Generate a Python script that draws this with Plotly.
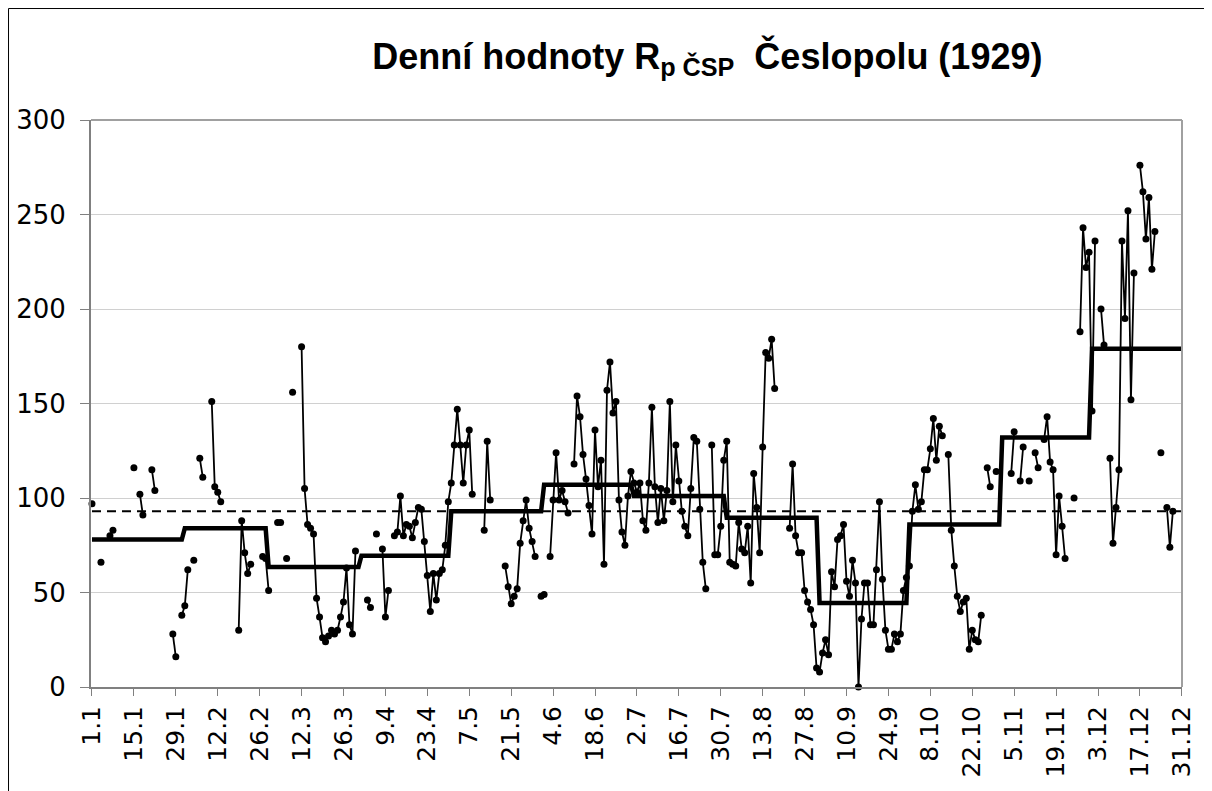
import plotly.graph_objects as go

N = None

# ---- data (daily values, one list per month; None = missing day) ----
jan = [97, N, N, 66, N, N, 80, 83, N, N, N, N, N, N, 116, N, 102, 91, N, N,
       115, 104, N, N, N, N, N, 28, 16, N, 38]
feb = [43, 62, N, 67, N, 121, 111, N, N, 151, 106, 103, 98, N, N, N, N, N,
       30, 88, 71, 60, 65, N, N, N, 69, 68]
mar = [51, N, N, 87, 87, N, 68, N, 156, N, N, 180, 105, 86, 84, 81, 47, 37,
       26, 24, 27, 30, 28, 30, 37, 45, 63, 33, 28, 72, N]
apr = [N, N, 46, 42, N, 81, N, 73, 37, 51, N, 80, 82, 101, 80, 86, 85, 79,
       87, 95, 94, 77, 59, 40, 60, 46, 60, 62, 75, 98]
may = [108, 128, 147, 128, 108, 128, 136, 102, N, N, N, 83, 130, 99, N, N,
       N, N, 64, 53, 44, 48, 52, 76, 88, 99, 84, 77, 69, N, 48]
jun = [49, N, 69, 99, 124, 99, 104, 98, 92, N, 118, 154, 143, 123, 110, 96,
       81, 136, 106, 120, 65, 157, 172, 145, 151, 99, 82, 75, 101, 114]
jul = [108, 103, 108, 88, 83, 108, 148, 106, 87, 105, 88, 104, 151, 98, 128,
       109, 93, 85, 80, 105, 132, 130, 94, 66, 52, N, 128, 70, 70, 85, 120]
aug = [130, 66, 65, 64, 87, 73, 71, 85, 55, 113, 95, 71, 127, 177, 174, 184,
       158, N, N, N, N, 84, 118, 80, 71, 71, 51, 45, 41, 33, 10]
sep = [8, 18, 25, 17, 61, 53, 78, 80, 86, 56, 48, 67, 55, 0, 36, 55, 55, 33,
       33, 62, 98, 57, 30, 20, 20, 28, 24, 28, 51, 58]
oct_ = [64, 93, 107, 94, 98, 115, 115, 126, 142, 120, 138, 133, N, 123, 83,
        64, 48, 40, 45, 47, 20, 30, 25, 24, 38, N, 116, 106, N, 114, N]
nov = [N, N, N, 113, 135, N, 109, 127, N, 109, N, 124, 116, N, 131, 143, 119,
       115, 70, 101, 85, 68, N, N, 100, N, 188, 243, 222, 230]
dec = [146, 236, N, 200, 181, N, 121, 76, 95, 115, 236, 195, 252, 152, 219,
       N, 276, 262, 237, 259, 221, 241, N, 124, N, 95, 74, 93, N, N, N]

month_days = [31, 28, 31, 30, 31, 30, 31, 31, 30, 31, 30, 31]
monthly_mean = [78, 84, 63.5, 69.5, 93, 107, 101, 89.5, 44.5, 86, 132, 179]
annual_mean = 93

tick_days = [1, 15, 29, 43, 57, 71, 85, 99, 113, 127, 141, 155, 169, 183,
             197, 211, 225, 239, 253, 267, 281, 295, 309, 323, 337, 351, 365]
tick_labels = ["1.1", "15.1", "29.1", "12.2", "26.2", "12.3", "26.3", "9.4",
               "23.4", "7.5", "21.5", "4.6", "18.6", "2.7", "16.7", "30.7",
               "13.8", "27.8", "10.9", "24.9", "8.10", "22.10", "5.11",
               "19.11", "3.12", "17.12", "31.12"]

daily = jan + feb + mar + apr + may + jun + jul + aug + sep + oct_ + nov + dec
days = list(range(1, len(daily) + 1))
mean_series = []
for m, n in zip(monthly_mean, month_days):
    mean_series += [m] * n

fig = go.Figure()
fig.add_trace(go.Scatter(x=days, y=[annual_mean] * len(days), mode="lines",
                         line=dict(color="black", width=2, dash="9px,6px"),
                         hoverinfo="skip"))
fig.add_trace(go.Scatter(x=days, y=daily, mode="lines+markers",
                         connectgaps=False, cliponaxis=False,
                         line=dict(color="black", width=1.8),
                         marker=dict(color="black", size=7)))
fig.add_trace(go.Scatter(x=days, y=mean_series, mode="lines",
                         line=dict(color="black", width=4.5)))

xfont = dict(family="DejaVu Sans", size=25, color="black")
yfont = dict(family="DejaVu Sans", size=26, color="black")

fig.update_layout(
    width=1212, height=791,
    margin=dict(l=83, r=38, t=112, b=112, autoexpand=False),
    paper_bgcolor="white", plot_bgcolor="white",
    showlegend=False,
    title=dict(
        text="Denní hodnoty R<sub>p ČSP</sub>&nbsp; Česlopolu (1929)",
        x=0.577, xanchor="center", xref="container",
        y=0.939, yanchor="middle", yref="container",
        font=dict(family="Liberation Sans, Arial", size=36, color="black",
                  weight="bold")),
    xaxis=dict(range=[0.67, 365.05], tickmode="array", tickvals=tick_days,
               ticktext=tick_labels, tickangle=-90, ticks="outside",
               ticklen=7, tickcolor="#808080", showline=True,
               linecolor="#808080", linewidth=2, showgrid=False,
               zeroline=False, tickfont=xfont, ticklabelstandoff=0,
               automargin=False),
    yaxis=dict(range=[0, 300], tickmode="linear", tick0=0, dtick=50,
               ticks="outside", ticklen=9, tickcolor="#808080",
               showline=True, linecolor="#808080", linewidth=2,
               gridcolor="#d0d0d0", gridwidth=1, zeroline=False,
               tickfont=yfont, ticklabelstandoff=9, automargin=False),
    shapes=[
        dict(type="line", xref="paper", yref="paper", x0=0, x1=1, y0=1, y1=1,
             line=dict(color="#a0a0a0", width=2), layer="above"),
        dict(type="line", xref="paper", yref="paper", x0=1, x1=1, y0=0, y1=1,
             line=dict(color="#a0a0a0", width=2), layer="above"),
        dict(type="rect", xref="paper", yref="paper", x0=-0.0756, x1=1.1,
             y0=-0.4, y1=1.1966, line=dict(color="black", width=1),
             layer="below"),
    ],
)

fig.write_html("out.html")
